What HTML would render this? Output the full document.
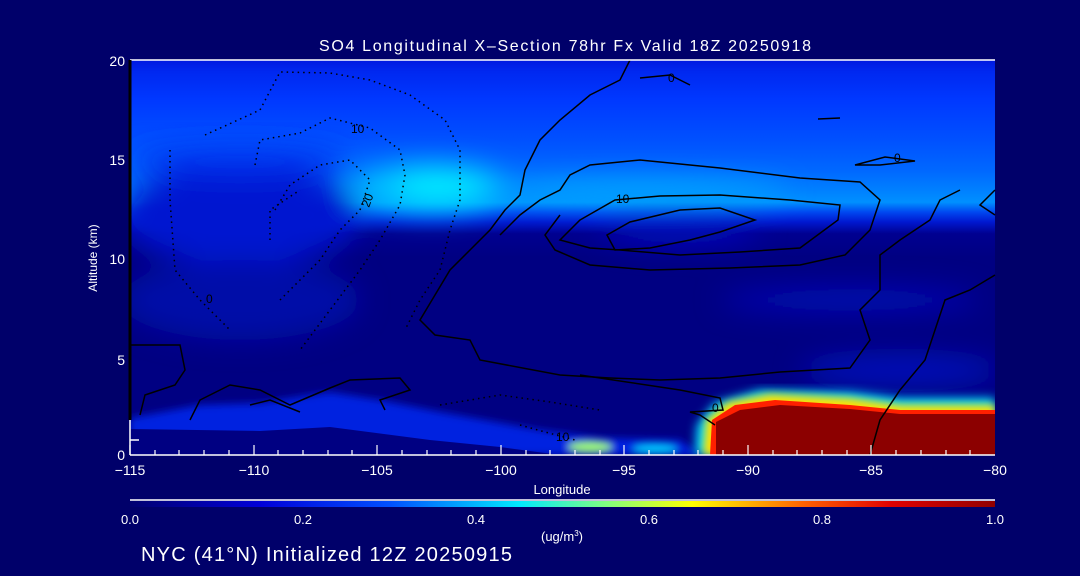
<!DOCTYPE html>
<html><head><style>
html,body{margin:0;padding:0;background:#00006a;}
svg{display:block;font-family:"Liberation Sans",sans-serif;}
</style></head><body>
<svg width="1080" height="576" viewBox="0 0 1080 576">
<defs>
<linearGradient id="cb" x1="0" x2="1" y1="0" y2="0">
<stop offset="0" stop-color="#000070"/>
<stop offset="0.15" stop-color="#0000d8"/>
<stop offset="0.3" stop-color="#0050ff"/>
<stop offset="0.45" stop-color="#00e8ff"/>
<stop offset="0.55" stop-color="#80ff80"/>
<stop offset="0.65" stop-color="#ffff00"/>
<stop offset="0.78" stop-color="#ff6000"/>
<stop offset="0.88" stop-color="#e00000"/>
<stop offset="1" stop-color="#900000"/>
</linearGradient>
<linearGradient id="vg" x1="0" x2="0" y1="0" y2="1">
<stop offset="0" stop-color="#0018e0"/>
<stop offset="0.03" stop-color="#0028f0"/>
<stop offset="0.1" stop-color="#0038ff"/>
<stop offset="0.2" stop-color="#0050ff"/>
<stop offset="0.28" stop-color="#0068ff"/>
<stop offset="0.33" stop-color="#0080ff"/>
<stop offset="0.36" stop-color="#0090ff"/>
<stop offset="0.385" stop-color="#0048f0"/>
<stop offset="0.41" stop-color="#0018d0"/>
<stop offset="0.44" stop-color="#000090"/>
<stop offset="0.5" stop-color="#000082"/>
<stop offset="1" stop-color="#000082"/>
</linearGradient>
<filter id="b1"><feGaussianBlur stdDeviation="14"/></filter>
<filter id="b2"><feGaussianBlur stdDeviation="5"/></filter>
<filter id="b3"><feGaussianBlur stdDeviation="4"/></filter>
<clipPath id="pc"><rect x="130" y="60" width="865" height="395"/></clipPath>
</defs>
<text x="565" y="51" fill="#fff" font-size="16" text-anchor="middle" textLength="492" lengthAdjust="spacing">SO4 Longitudinal X–Section 78hr  Fx Valid 18Z 20250918</text>
<g clip-path="url(#pc)">
<rect x="130" y="60" width="865" height="395" fill="url(#vg)"/>
<g filter="url(#b1)">
<ellipse cx="240" cy="215" rx="120" ry="50" fill="#0012d0"/>
<ellipse cx="240" cy="300" rx="120" ry="40" fill="#0008a8"/>
<ellipse cx="240" cy="160" rx="110" ry="14" fill="#0030f0"/>
<ellipse cx="430" cy="188" rx="80" ry="24" fill="#00c0ff"/>
<ellipse cx="440" cy="186" rx="45" ry="14" fill="#00f0ff"/>
<ellipse cx="640" cy="190" rx="150" ry="9" fill="#00b0ff"/>
<ellipse cx="680" cy="232" rx="80" ry="12" fill="#0010c0"/>
<ellipse cx="850" cy="300" rx="130" ry="12" fill="#000cb8"/>
<ellipse cx="900" cy="370" rx="100" ry="12" fill="#0012c8"/>
</g>
<g filter="url(#b3)">
<path d="M130 418 L200 405 L260 403 L330 392 L380 400 L440 412 L540 430 L600 438 L680 440 L700 455 L130 455Z" fill="#0020e0"/>
<ellipse cx="590" cy="447" rx="22" ry="5" fill="#a0ff60"/>
<ellipse cx="655" cy="449" rx="22" ry="4" fill="#00d0ff"/>
</g>
<path d="M130 429 L260 431 L330 427 L430 440 L500 447 L560 455 L130 456Z" fill="#000082"/>
<g filter="url(#b2)">
<path d="M695 455 L697 425 L715 403 L760 390 L850 392 L900 398 L995 398 L995 455Z" fill="#00e0ff"/>
</g>
<g filter="url(#b3)">
<path d="M703 455 L706 420 L728 402 L770 394 L850 398 L900 405 L995 405 L995 455Z" fill="#ffe000"/>
</g>
<path d="M710 455 L712 420 L735 405 L775 400 L850 405 L900 410 L995 410 L995 455Z" fill="#ff2000"/>
<path d="M716 455 L716 422 L740 410 L780 405 L850 409 L900 414 L995 414 L995 455Z" fill="#8c0000"/>
</g>
<!-- contours -->
<g fill="none" stroke="#000" stroke-width="1.5">
<path d="M630 60 L620 80 L590 95 L560 120 L540 140 L525 170 L520 195 L505 210 L490 230 L470 250 L450 270 L435 295 L420 320 L435 335 L470 340 L480 360 L560 375 L610 378 L660 380 L720 378 L780 372 L850 368 L870 340 L860 310 L880 290 L880 255 L900 240 L930 220 L940 200 L960 190"/>
<path d="M500 235 L520 215 L540 200 L560 190 L570 175 L590 165 L640 160 L720 168 L800 178 L860 182 L880 200 L870 230 L845 255 L800 265 L730 268 L650 270 L590 265 L555 250 L545 235 L560 215"/>
<path d="M580 220 L615 200 L660 196 L720 195 L790 200 L840 205 L838 220 L800 248 L740 252 L680 255 L620 250 L590 248 L560 240 Z"/>
<path d="M607 235 L630 222 L680 210 L720 208 L755 220 L720 232 L690 240 L650 248 L615 250 Z"/>
<path d="M995 190 L980 205 L995 215"/>
<path d="M995 275 L970 290 L945 300 L935 330 L925 360 L900 390 L880 420 L870 455"/>
<path d="M580 375 L600 378 L680 390 L720 398 L723 410 L690 412 L700 415 L715 425"/>
<path d="M130 345 L180 345 L185 370 L175 385 L145 395 L140 415"/>
<path d="M190 420 L200 400 L230 385 L260 390 L290 405 L330 388 L350 380 L400 378 L410 390 L380 400 L385 410"/>
<path d="M250 405 L270 400 L300 412"/>
<path d="M855 165 L885 157 L915 161 L880 165 Z"/>
<path d="M818 119 L840 118"/>
<path d="M640 78 L670 75 L690 85"/>
</g>
<g fill="none" stroke="#000" stroke-width="1.5" stroke-dasharray="1.5 4">
<path d="M205 135 L260 110 L280 72 L330 73 L370 80 L410 95 L445 120 L460 150 L460 200 L450 230 L440 270 L420 300 L405 330"/>
<path d="M170 150 L170 200 L175 270 L200 300 L230 330"/>
<path d="M255 165 L260 140 L300 133 L330 118 L370 128 L400 150 L405 175 L400 205 L380 240 L360 270 L330 310 L300 350"/>
<path d="M275 210 L290 185 L320 165 L350 160 L370 180 L360 210 L340 230 L320 260 L300 280 L280 300"/>
<path d="M270 240 L270 210 L300 190"/>
<path d="M440 405 L500 395 L550 402 L600 410"/>
<path d="M520 425 L545 432 L575 440"/>
</g>
<g font-size="12" fill="#000">
<text x="351" y="133">10</text>
<text x="369" y="208" transform="rotate(-70 369 208)">20</text>
<text x="206" y="303">0</text>
<text x="616" y="203">10</text>
<text x="894" y="162">0</text>
<text x="668" y="82">0</text>
<text x="712" y="412">0</text>
<text x="556" y="441">10</text>
</g>
<!-- axes -->
<g stroke="#fff" stroke-width="1.5" fill="none">
<line x1="130" y1="455" x2="995" y2="455"/>
<line x1="130" y1="455" x2="130" y2="60"/>
<line x1="130" y1="60" x2="995" y2="60"/>
<line x1="130" y1="440" x2="139" y2="440"/>
</g>
<line x1="130" y1="60" x2="130" y2="420" stroke="#000" stroke-width="3"/>
<g stroke="#fff" stroke-width="1.2">
<line x1="130" y1="455" x2="130" y2="445"/>
<line x1="254" y1="455" x2="254" y2="445"/>
<line x1="377" y1="455" x2="377" y2="445"/>
<line x1="501" y1="455" x2="501" y2="445"/>
<line x1="624" y1="455" x2="624" y2="445"/>
<line x1="748" y1="455" x2="748" y2="445"/>
<line x1="871" y1="455" x2="871" y2="445"/>
<path d="M155 455v-5M179 455v-5M204 455v-5M229 455v-5M278 455v-5M303 455v-5M328 455v-5M352 455v-5M402 455v-5M427 455v-5M451 455v-5M476 455v-5M526 455v-5M550 455v-5M575 455v-5M600 455v-5M649 455v-5M674 455v-5M698 455v-5M723 455v-5M773 455v-5M797 455v-5M822 455v-5M847 455v-5M896 455v-5M921 455v-5M946 455v-5M970 455v-5"/>
</g>
<g fill="#fff" font-size="14" text-anchor="middle">
<text x="130" y="475">−115</text><text x="254" y="475">−110</text><text x="377" y="475">−105</text>
<text x="501" y="475">−100</text><text x="624" y="475">−95</text><text x="748" y="475">−90</text>
<text x="871" y="475">−85</text><text x="995" y="475">−80</text>
</g>
<g fill="#fff" font-size="14" text-anchor="end">
<text x="125" y="460">0</text><text x="125" y="365">5</text><text x="125" y="264">10</text>
<text x="125" y="165">15</text><text x="125" y="66">20</text>
</g>
<text x="97" y="258" fill="#fff" font-size="12" text-anchor="middle" transform="rotate(-90 97 258)">Altitude (km)</text>
<text x="562" y="494" fill="#fff" font-size="13" text-anchor="middle">Longitude</text>
<line x1="130" y1="500" x2="995" y2="500" stroke="#fff" stroke-width="1.5"/>
<rect x="130" y="501" width="865" height="6" fill="url(#cb)"/>
<g fill="#fff" font-size="13" text-anchor="middle">
<text x="130" y="524">0.0</text><text x="303" y="524">0.2</text><text x="476" y="524">0.4</text>
<text x="649" y="524">0.6</text><text x="822" y="524">0.8</text><text x="995" y="524">1.0</text>
<text x="562" y="541">(ug/m<tspan font-size="8" dy="-5">3</tspan><tspan dy="5">)</tspan></text>
</g>
<text x="141" y="561" fill="#fff" font-size="20" textLength="371" lengthAdjust="spacing">NYC (41°N) Initialized 12Z 20250915</text>
</svg>
</body></html>
